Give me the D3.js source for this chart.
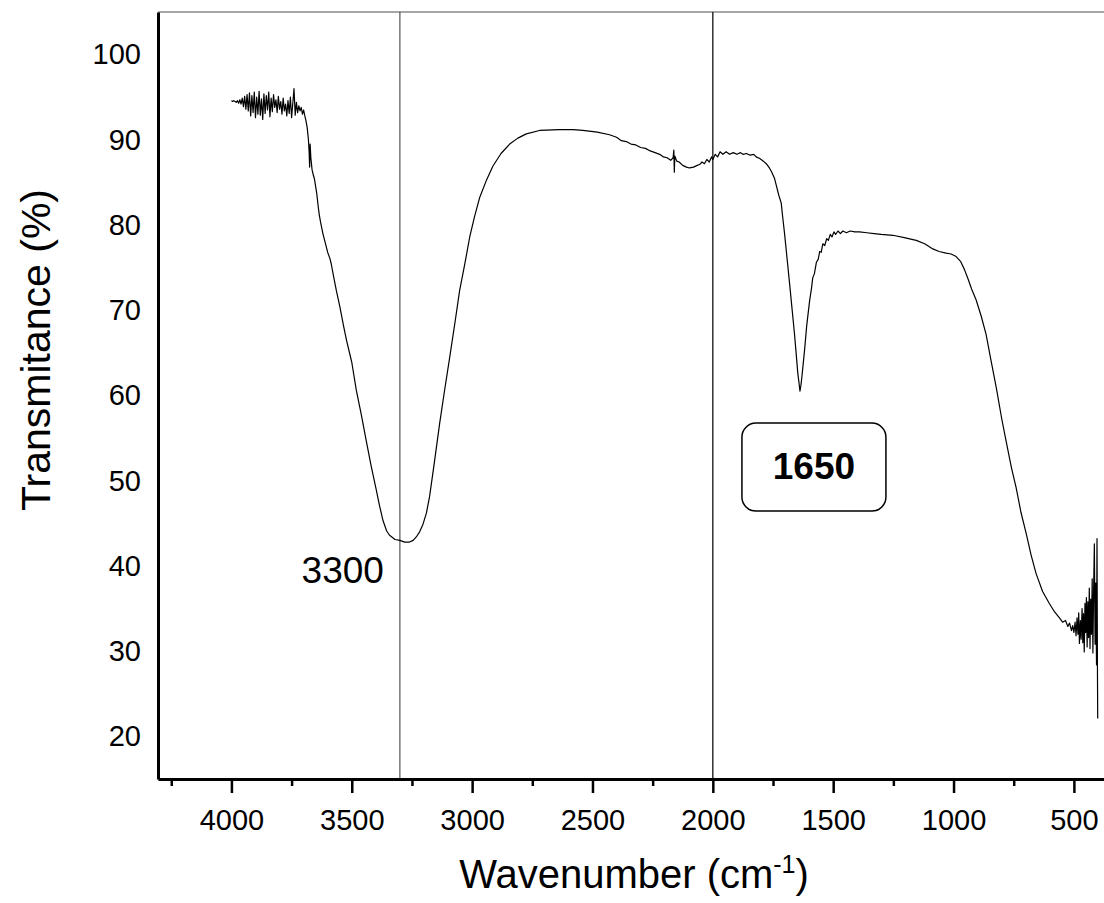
<!DOCTYPE html>
<html>
<head>
<meta charset="utf-8">
<script src="https://cdn.jsdelivr.net/npm/d3@7"></script>
<style>
  html, body { margin: 0; padding: 0; background: #fff; }
  svg { display: block; }
  text { font-family: "Liberation Sans", Arial, sans-serif; fill: #000; }
</style>
</head>
<body>
<script>
// FTIR spectrum (wavenumber in cm-1, transmittance in %)
const wavenumbers = [
  4000, 3995, 3990, 3985, 3980, 3975, 3970, 3965, 3960, 3955, 3950, 3945, 3940, 3935, 3930, 3925,
  3920, 3915, 3910, 3905, 3900, 3895, 3890, 3885, 3880, 3875, 3870, 3865, 3860, 3855, 3850, 3845,
  3840, 3835, 3830, 3825, 3820, 3815, 3810, 3805, 3800, 3795, 3790, 3785, 3780, 3775, 3770, 3765,
  3760, 3755, 3750, 3745, 3740, 3735, 3730, 3725, 3720, 3715, 3710, 3705, 3700, 3695, 3690, 3685,
  3680, 3677, 3675, 3673, 3670, 3665, 3660, 3655, 3650, 3645, 3640, 3635, 3630, 3620, 3610, 3600,
  3590, 3585, 3575, 3564, 3550, 3535, 3522, 3500, 3481, 3460, 3440, 3420, 3398, 3385, 3370, 3355,
  3343, 3320, 3300, 3280, 3260, 3245, 3232, 3218, 3204, 3190, 3177, 3160, 3135, 3115, 3093, 3070,
  3052, 3030, 3010, 2990, 2969, 2940, 2914, 2880, 2844, 2810, 2775, 2720, 2637, 2580, 2540, 2480,
  2429, 2400, 2380, 2360, 2340, 2320, 2300, 2280, 2260, 2240, 2221, 2205, 2190, 2175, 2165, 2162,
  2160, 2158, 2150, 2140, 2125, 2110, 2097, 2080, 2065, 2055, 2045, 2035, 2025, 2015, 2005, 2000,
  1990, 1980, 1970, 1958, 1945, 1930, 1915, 1900, 1885, 1875, 1860, 1845, 1830, 1820, 1805, 1790,
  1778, 1765, 1755, 1744, 1735, 1726, 1716, 1710, 1702, 1692, 1681, 1671, 1661, 1654, 1647, 1642,
  1638, 1634, 1630, 1625, 1619, 1610, 1598, 1590, 1585, 1578, 1570, 1562, 1556, 1550, 1543, 1535,
  1527, 1520, 1512, 1505, 1497, 1490, 1480, 1470, 1460, 1445, 1430, 1410, 1391, 1360, 1330, 1300,
  1252, 1200, 1155, 1120, 1086, 1060, 1031, 1010, 989, 970, 955, 940, 925, 906, 885, 865,
  845, 823, 800, 782, 760, 740, 720, 698, 678, 657, 630, 602, 580, 560, 547, 535,
  525, 518, 510, 505, 500, 495, 491, 487, 483, 480, 477, 473, 470, 466, 463, 460,
  457, 454, 451, 448, 445, 442, 439, 436, 433, 430, 427, 424, 421, 418, 415, 412,
  409, 406, 404, 402, 401
];
const transmittance = [
  94.6, 94.5, 94.6, 94.5, 94.4, 94.6, 94.3, 94.7, 94.2, 94.9, 93.9, 95.1, 93.6, 95.3, 93.4, 95.5,
  92.8, 95.2, 93.2, 95.6, 92.6, 95.0, 93.0, 95.7, 92.9, 94.8, 92.4, 95.4, 93.1, 95.2, 93.5, 95.6,
  92.7, 94.9, 93.3, 95.3, 93.8, 94.7, 93.2, 95.1, 93.6, 94.5, 93.0, 94.9, 93.4, 94.2, 92.8, 94.6,
  93.1, 95.0, 92.6, 94.3, 96.0, 92.9, 94.4, 93.2, 94.0, 93.4, 93.8, 93.0, 93.5, 92.8, 92.2, 91.4,
  90.0, 88.5, 86.8, 89.5, 87.9, 86.5, 85.9, 85.4, 84.5, 83.6, 82.3, 81.2, 80.4, 79.0, 77.9, 76.8,
  76.0, 75.4, 73.9, 72.3, 70.5, 68.3, 66.5, 63.9, 60.6, 57.7, 54.7, 51.8, 48.9, 47.1, 45.3, 44.1,
  43.6, 43.1, 43.0, 42.8, 42.8, 43.0, 43.4, 44.0, 44.9, 46.2, 48.1, 51.5, 56.7, 60.5, 64.5, 68.8,
  72.3, 75.5, 78.6, 81.0, 83.2, 85.3, 86.9, 88.4, 89.5, 90.2, 90.7, 91.1, 91.2, 91.2, 91.1, 90.9,
  90.6, 90.3, 89.9, 89.8, 89.5, 89.4, 89.1, 89.0, 88.7, 88.5, 88.3, 88.0, 87.9, 87.6, 87.9, 88.8,
  86.2, 88.1, 87.5, 87.4, 87.0, 86.8, 86.7, 86.8, 87.0, 87.1, 87.4, 87.2, 87.7, 87.4, 88.0, 87.7,
  88.3, 88.0, 88.6, 88.3, 88.6, 88.3, 88.5, 88.3, 88.5, 88.3, 88.4, 88.2, 88.3, 88.0, 87.8, 87.5,
  87.2, 86.7, 86.2, 85.5, 84.5, 83.5, 82.6, 81.0, 79.0, 76.2, 73.1, 70.2, 67.3, 65.0, 62.6, 61.5,
  60.5, 61.2, 62.2, 63.6, 65.3, 68.2, 71.1, 72.6, 73.8, 74.3, 75.6, 76.0, 76.9, 76.8, 77.8, 77.6,
  78.4, 78.2, 78.9, 78.6, 79.2, 78.9, 79.3, 79.0, 79.3, 79.1, 79.3, 79.2, 79.2, 79.1, 79.0, 78.9,
  78.8, 78.5, 78.2, 77.8, 77.2, 76.9, 76.7, 76.6, 76.3, 75.7, 74.8, 73.7, 72.5, 71.2, 69.3, 67.2,
  64.2, 61.0, 57.3, 54.7, 51.6, 49.2, 46.3, 43.8, 41.3, 39.1, 37.0, 35.6, 34.6, 33.9, 33.4, 33.6,
  32.9, 33.3, 32.4, 33.0, 32.2, 33.4, 31.8, 33.9, 32.0, 34.5, 30.9, 33.6, 31.4, 35.0, 31.0, 34.4,
  29.9, 35.6, 32.2, 36.3, 30.5, 35.8, 31.6, 37.4, 30.3, 36.1, 32.0, 38.5, 29.8, 37.2, 42.6, 30.8,
  38.0, 28.4, 43.2, 27.0, 22.1
];

const xMajorTicks = [4000, 3500, 3000, 2500, 2000, 1500, 1000, 500];
const xMinorTicks = [4250, 3750, 3250, 2750, 2250, 1750, 1250, 750];
const yTicks = [20, 30, 40, 50, 60, 70, 80, 90, 100];
const markerLines = [3300, 2000];
const plainLabel = { text: '3300', at: 3300, value: 38 };
const boxedLabel = { text: '1650', at: 1580, value: 51.6 };

const width = 1104,
  height = 903,
  margin = { top: 12, right: -6, bottom: 124, left: 158 };

const svg = d3.select('body')
  .append('svg')
  .attr('width', width)
  .attr('height', height);

const x = d3.scaleLinear()
  .domain([4305, 350])
  .range([margin.left, width - margin.right]);

const y = d3.scaleLinear()
  .domain([15, 105])
  .range([height - margin.bottom, margin.top]);

// top frame line (light)
svg.append('line')
  .attr('x1', margin.left)
  .attr('x2', width - margin.right)
  .attr('y1', margin.top)
  .attr('y2', margin.top)
  .attr('stroke', '#8a8a8a')
  .attr('stroke-width', 1.5);

// vertical marker lines
svg.append('g')
  .selectAll('line')
  .data(markerLines)
  .enter().append('line')
  .attr('x1', d => x(d))
  .attr('x2', d => x(d))
  .attr('y1', margin.top)
  .attr('y2', height - margin.bottom)
  .attr('stroke', (d, i) => i === 0 ? '#333' : '#111')
  .attr('stroke-width', (d, i) => i === 0 ? 1 : 1.3);

// spectrum
const points = wavenumbers.map((w, i) => [w, transmittance[i]]);
svg.append('path')
  .datum(points)
  .attr('fill', 'none')
  .attr('stroke', '#000')
  .attr('stroke-width', 1.2)
  .attr('stroke-linejoin', 'round')
  .attr('d', d3.line().x(d => x(d[0])).y(d => y(d[1])));

// x axis, minor ticks first
svg.append('g')
  .attr('transform', `translate(0,${height - margin.bottom})`)
  .call(d3.axisBottom(x).tickValues(xMinorTicks).tickSize(7).tickFormat(''))
  .call(g => g.select('.domain').remove())
  .call(g => g.selectAll('.tick line').attr('stroke-width', 2.5));

svg.append('g')
  .attr('transform', `translate(0,${height - margin.bottom})`)
  .call(d3.axisBottom(x).tickValues(xMajorTicks).tickFormat(d3.format('d'))
    .tickSize(14).tickPadding(16).tickSizeOuter(0))
  .call(g => g.select('.domain').attr('stroke-width', 3))
  .call(g => g.selectAll('.tick line').attr('stroke-width', 2.5))
  .call(g => g.selectAll('.tick text')
    .attr('font-family', '"Liberation Sans", Arial, sans-serif')
    .attr('font-size', 29)
    .attr('fill', '#000'));

// y axis, labels only
svg.append('g')
  .attr('transform', `translate(${margin.left},0)`)
  .call(d3.axisLeft(y).tickValues(yTicks).tickSize(0).tickPadding(17).tickSizeOuter(0))
  .call(g => g.select('.domain').attr('stroke-width', 3))
  .call(g => g.selectAll('.tick text')
    .attr('font-family', '"Liberation Sans", Arial, sans-serif')
    .attr('font-size', 29)
    .attr('fill', '#000'));

// axis titles
const xTitle = svg.append('text')
  .attr('x', (x.range()[0] + x.range()[1]) / 2)
  .attr('y', 888)
  .attr('text-anchor', 'middle')
  .attr('font-size', 40);
xTitle.append('tspan').text('Wavenumber (cm');
xTitle.append('tspan').attr('font-size', 25).attr('dy', -15).text('-1');
xTitle.append('tspan').attr('dy', 15).text(')');

svg.append('text')
  .attr('transform', 'translate(50,350) rotate(-90)')
  .attr('text-anchor', 'middle')
  .attr('font-size', 41)
  .text('Transmitance (%)');

// annotations
svg.append('text')
  .attr('x', x(plainLabel.at) - 16)
  .attr('y', y(plainLabel.value))
  .attr('text-anchor', 'end')
  .attr('font-size', 37)
  .text(plainLabel.text);

const box = svg.append('g')
  .attr('transform', `translate(${x(boxedLabel.at)},${y(boxedLabel.value)})`);
box.append('rect')
  .attr('x', -72)
  .attr('y', -44)
  .attr('width', 144)
  .attr('height', 88)
  .attr('rx', 14)
  .attr('fill', '#fff')
  .attr('stroke', '#000')
  .attr('stroke-width', 1.5);
box.append('text')
  .attr('y', 12)
  .attr('text-anchor', 'middle')
  .attr('font-family', 'Lato, "Open Sans", sans-serif')
  .attr('font-weight', 'bold')
  .attr('font-size', 37)
  .text(boxedLabel.text);
</script>
</body>
</html>
